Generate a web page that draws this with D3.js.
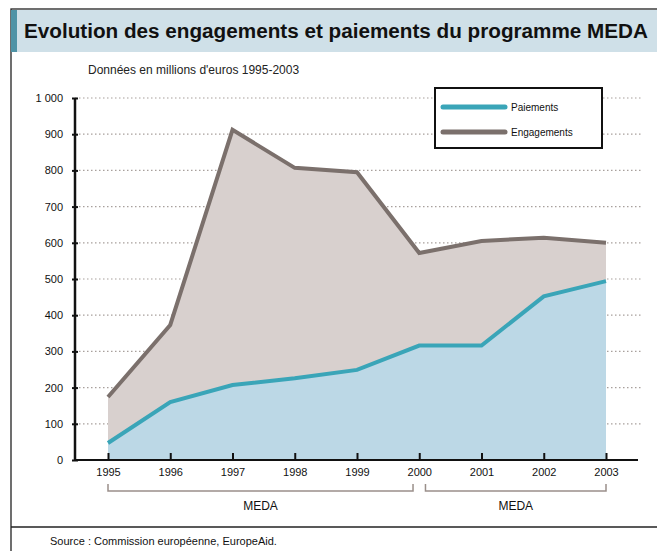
<!DOCTYPE html>
<html>
<head>
<meta charset="utf-8">
<script src="https://cdn.jsdelivr.net/npm/d3@7"></script>
<style>
  body { margin: 0; background: #fff; }
  svg { display: block; }
</style>
</head>
<body>
<div id="chart"></div>
<script>
// données (millions d'euros)
var years = [1995, 1996, 1997, 1998, 1999, 2000, 2001, 2002, 2003];
var engagements = [174, 373, 912, 807, 795, 572, 605, 614, 600];
var paiements = [47, 160, 207, 226, 249, 316, 316, 452, 494];
var yTicks = [0, 100, 200, 300, 400, 500, 600, 700, 800, 900, 1000];
var periods = [
  { label: 'MEDA', from: 1995, to: 1999.9 },
  { label: 'MEDA', from: 2000.1, to: 2003 }
];

var W = 657, H = 551;
var svg = d3.select('#chart').append('svg').attr('width', W).attr('height', H);

//cadre
svg.append('rect').attr('x', 11).attr('y', 9).attr('width', W).attr('height', H)
  .attr('fill', 'none').attr('stroke', '#222').attr('stroke-width', 1.3);

//bandeau titre
svg.append('rect').attr('x', 11).attr('y', 10).attr('width', W - 11).attr('height', 42).attr('fill', '#cfe0e8');
svg.append('rect').attr('x', 11).attr('y', 10).attr('width', 6).attr('height', 42).attr('fill', '#4f93a6');
svg.append('text').attr('x', 24).attr('y', 38)
  .attr('font-family', 'Liberation Sans, Arial, sans-serif').attr('font-weight', 'bold')
  .attr('font-size', 20).attr('fill', '#111')
  .attr('textLength', 624).attr('lengthAdjust', 'spacingAndGlyphs')
  .text('Evolution des engagements et paiements du programme MEDA');

svg.append('text').attr('x', 88).attr('y', 74)
  .attr('font-family', 'Liberation Sans, Arial, sans-serif').attr('font-size', 12).attr('fill', '#222')
  .text("Données en millions d'euros 1995-2003");

var x = d3.scaleLinear().domain([1995, 2003]).range([108, 606]);
var y = d3.scaleLinear().domain([0, 1000]).range([460, 98]);

var g = svg.append('g');

//grille pointillée
g.selectAll('line.grid').data(yTicks.slice(1)).enter().append('line')
  .attr('class', 'grid')
  .attr('x1', 75).attr('x2', 642)
  .attr('y1', d => y(d)).attr('y2', d => y(d))
  .attr('stroke', '#a8a09c').attr('stroke-width', 1.2).attr('stroke-dasharray', '1.5,2.5');

var engData = years.map((yr, i) => ({ yr: yr, v: engagements[i] }));
var paiData = years.map((yr, i) => ({ yr: yr, v: paiements[i] }));

var area = d3.area().x(d => x(d.yr)).y0(y(0)).y1(d => y(d.v));
var line = d3.line().x(d => x(d.yr)).y(d => y(d.v));

g.append('path').datum(engData).attr('d', area).attr('fill', '#d8d0ce');
g.append('path').datum(paiData).attr('d', area).attr('fill', '#bcd8e6');

g.append('path').datum(engData).attr('d', line)
  .attr('fill', 'none').attr('stroke', '#7b706c').attr('stroke-width', 4);
g.append('path').datum(paiData).attr('d', line)
  .attr('fill', 'none').attr('stroke', '#3aa5b8').attr('stroke-width', 4);

//axes
var yAxis = d3.axisLeft(y).tickValues(yTicks).tickSize(-3)
  .tickFormat(d => d === 1000 ? '1 000' : d);
var ya = g.append('g').attr('transform', 'translate(75,0)').call(yAxis);
ya.select('.domain').attr('stroke', '#111').attr('stroke-width', 2.5).attr('d', 'M0,98V460');
ya.selectAll('.tick line').attr('x1', -3).attr('x2', 3).attr('stroke', '#111').attr('stroke-width', 2);
ya.selectAll('.tick text').attr('x', -12)
  .attr('font-family', 'Liberation Sans, Arial, sans-serif').attr('font-size', 11).attr('fill', '#111');

var xAxis = d3.axisBottom(x).tickValues(years).tickFormat(d3.format('d')).tickSize(-7);
var xa = g.append('g').attr('transform', 'translate(0,460)').call(xAxis);
xa.select('.domain').attr('stroke', '#111').attr('stroke-width', 2).attr('d', 'M74,0H638');
xa.selectAll('.tick line').attr('stroke', '#111').attr('stroke-width', 2);
xa.selectAll('.tick text').attr('y', 8)
  .attr('font-family', 'Liberation Sans, Arial, sans-serif').attr('font-size', 11).attr('fill', '#111');

//périodes MEDA
var pg = g.selectAll('g.period').data(periods).enter().append('g').attr('class', 'period');
pg.append('path')
  .attr('d', d => `M${x(d.from)},484V491H${x(d.to)}V484`)
  .attr('fill', 'none').attr('stroke', '#9a8f8a').attr('stroke-width', 1.5);
pg.append('text')
  .attr('x', d => (x(d.from) + x(d.to)) / 2).attr('y', 510)
  .attr('text-anchor', 'middle')
  .attr('font-family', 'Liberation Sans, Arial, sans-serif').attr('font-size', 12).attr('fill', '#111')
  .text(d => d.label);

//légende
var lg = svg.append('g').attr('transform', 'translate(435,88)');
lg.append('rect').attr('width', 167).attr('height', 60)
  .attr('fill', '#fff').attr('stroke', '#111').attr('stroke-width', 2);
var legendItems = [
  { label: 'Paiements', color: '#3aa5b8' },
  { label: 'Engagements', color: '#7b706c' }
];
var li = lg.selectAll('g.item').data(legendItems).enter().append('g')
  .attr('transform', (d, i) => `translate(0,${19 + i * 25})`);
li.append('line').attr('x1', 8).attr('x2', 70)
  .attr('stroke', d => d.color).attr('stroke-width', 5).attr('stroke-linecap', 'round');
li.append('text').attr('x', 76).attr('y', 4)
  .attr('font-family', 'Liberation Sans, Arial, sans-serif').attr('font-size', 10).attr('fill', '#111')
  .text(d => d.label);

//source
svg.append('line').attr('x1', 11).attr('x2', W).attr('y1', 527).attr('y2', 527)
  .attr('stroke', '#222').attr('stroke-width', 1.3);
svg.append('text').attr('x', 50).attr('y', 545)
  .attr('font-family', 'Liberation Sans, Arial, sans-serif').attr('font-size', 11).attr('fill', '#111')
  .text('Source : Commission européenne, EuropeAid.');
</script>
</body>
</html>
